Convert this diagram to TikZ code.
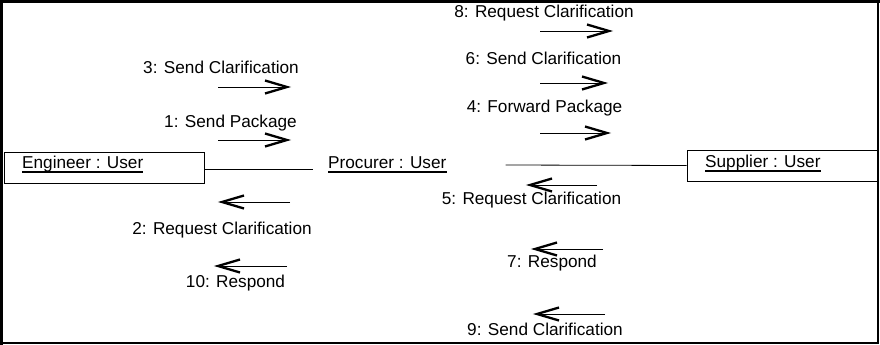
\documentclass[tikz,border=0pt]{standalone}
\usepackage{fontspec}
\setmainfont{Liberation Sans}
\begin{document}
\begin{tikzpicture}[x=1pt,y=-1pt,
  lbl/.style={font=\fontsize{17.2}{20}\selectfont, inner sep=0pt, anchor=base},
  objbox/.style={draw, line width=0.8pt, inner sep=0pt},
  uline/.style={line width=1.4pt},
  link/.style={line width=0.8pt},
  shaft/.style={line width=0.8pt},
  vhead/.style={line width=2.3pt, line join=miter}
]
\newcommand\msgarrow[3]{%
  \draw[shaft] (#1,#3) -- (#2,#3);
  \pgfmathsetmacro\hd{(#2>#1) ? -22 : 22}%
  \draw[vhead] ({#2+\hd},{#3-6.5}) -- (#2,#3) -- ({#2+\hd},{#3+6.5});
}
\useasboundingbox (0,0) rectangle (880,345);
% frame
\draw[line width=1.2pt] (1.5,2) rectangle (878,343);
\draw[line width=2.4pt] (0,1.5) -- (880,1.5);
\draw[line width=3pt] (1.5,0) -- (1.5,345);

% objects
\node[objbox, minimum width=200pt, minimum height=31pt] (eng) at (104,167.5) {};
\node[lbl, anchor=base west] (engt) at (22,168) {Engineer : User};
\draw[uline] ([yshift=-4pt]engt.base west) -- ([yshift=-4pt]engt.base east);

\node[lbl, anchor=base west] (proc) at (328,168) {Procurer : User};
\draw[uline] ([yshift=-4pt]proc.base west) -- ([yshift=-4pt]proc.base east);

\node[objbox, minimum width=190pt, minimum height=31pt] (sup) at (782,165.5) {};
\node[lbl, anchor=base west] (supt) at (705,167) {Supplier : User};
\draw[uline] ([yshift=-4pt]supt.base west) -- ([yshift=-4pt]supt.base east);

% links
\draw[link] ([yshift=-1.5pt]eng.east) -- ([xshift=-15pt,yshift=-1pt]proc.base west);
\draw[link] ([xshift=59pt,yshift=3pt]proc.base east) -- (sup.west);

% messages engineer <-> procurer
\msgarrow{218}{287}{87}
\node[lbl] (m3) at (221,73.5) {3: Send Clarification};
\msgarrow{218}{287}{140}
\node[lbl] (m1) at (230.5,127.5) {1: Send Package};
\msgarrow{290}{222}{202}
\node[lbl] (m2) at (222,234.5) {2: Request Clarification};
\msgarrow{287}{218}{266}
\node[lbl] (m10) at (235.5,287.5) {10: Respond};

% messages procurer <-> supplier
\msgarrow{540}{609}{31}
\node[lbl] (m8) at (544,17.5) {8: Request Clarification};
\msgarrow{540}{604}{83}
\node[lbl] (m6) at (543.5,64.5) {6: Send Clarification};
\msgarrow{540}{607}{133}
\node[lbl] (m4) at (544.5,112.5) {4: Forward Package};
\msgarrow{597}{530}{185}
\node[lbl] (m5) at (531.5,204.5) {5: Request Clarification};
\msgarrow{603}{535}{249}
\node[lbl] (m7) at (552,267.5) {7: Respond};
\msgarrow{605}{537}{314}
\node[lbl] (m9) at (545,335.5) {9: Send Clarification};
\end{tikzpicture}
\end{document}
